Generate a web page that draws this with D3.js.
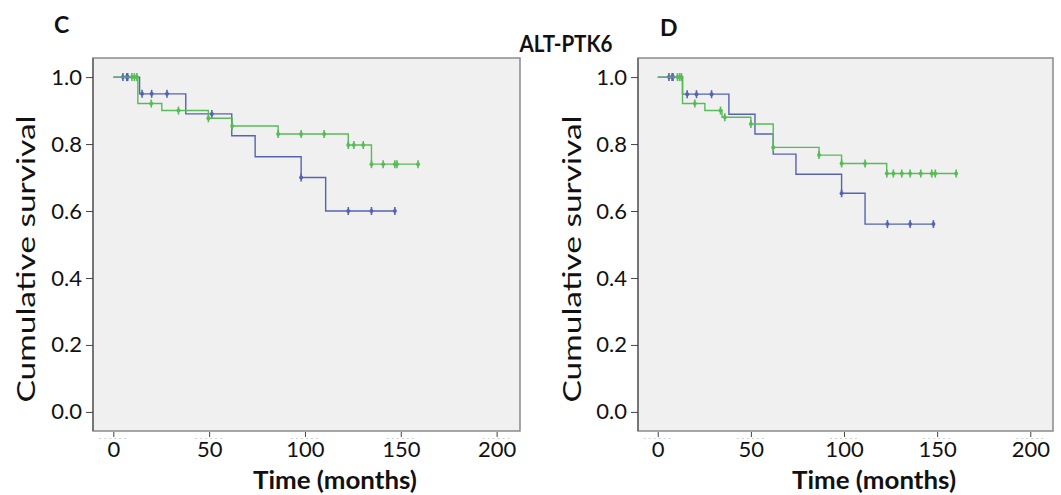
<!DOCTYPE html>
<html>
<head>
<meta charset="utf-8">
<script src="https://cdn.jsdelivr.net/npm/d3@7"></script>
<style>
  body { margin: 0; background: #fff; }
  svg text { font-family: Lato, "Open Sans", sans-serif; fill: #111; }
</style>
</head>
<body>
<svg id="chart" width="1061" height="495"></svg>
<script>
// x ticks / y ticks
const xTicks = [0, 50, 100, 150, 200]
const yTicks = [0, 0.2, 0.4, 0.6, 0.8, 1.0]

// panel C, blue group
const cBlueTimes = [13.7, 37.8, 61.8, 74, 98, 110.8]
const cBlueSurv = [0.95, 0.89, 0.825, 0.762, 0.70, 0.60]
const cBlueCensor = [5, 7, 7.5, 15, 20, 28, 51.4, 98, 122.6, 134.7, 146.9]
// panel C, green group
const cGreenTimes = [12.8, 25.3, 49.6, 62, 86, 122.6, 134.7]
const cGreenSurv = [0.921, 0.90, 0.877, 0.854, 0.83, 0.797, 0.74]
const cGreenCensor = [9.7, 11, 12.3, 19.8, 34, 49.6, 62, 86, 98, 110, 122.6, 125.5, 130.4, 134.7, 140.8, 146.9, 148, 159]

// panel D, blue group
const dBlueTimes = [13.3, 38.2, 52.2, 62, 74.2, 98.7, 111.3]
const dBlueSurv = [0.949, 0.889, 0.83, 0.77, 0.71, 0.653, 0.561]
const dBlueCensor = [6, 7.7, 8.2, 15.8, 20.8, 28.9, 98.7, 123.3, 135.5, 148]
// panel D, green group
const dGreenTimes = [13.3, 25.3, 34.5, 50, 62, 86.6, 98.7, 122.9]
const dGreenSurv = [0.921, 0.90, 0.88, 0.86, 0.79, 0.767, 0.742, 0.712]
const dGreenCensor = [10.6, 11.8, 12.7, 19.9, 33.7, 36, 50, 62, 86.6, 98.7, 111.3, 123, 126.5, 131, 135.5, 141.2, 147.1, 149, 160.2]

const blue = '#5563b0'
const green = '#58bb58'

let svg = d3.select('#chart')

function survAt(times, surv, t) {
    let s = 1
    times.forEach((tt, i) => { if (tt <= t) s = surv[i] })
    return s
}

function drawPanel(left, right, labelX, series) {

    let x = d3.scaleLinear().domain([-10.6, 212.2]).range([left, right])
    let y = d3.scaleLinear().domain([-0.057, 1.057]).range([431, 58])

    svg.append('rect')
        .attr('x', left).attr('y', 58)
        .attr('width', right - left).attr('height', 431 - 58)
        .style('fill', '#f0f0f0')
        .style('stroke', '#8a8a8a')
        .style('stroke-width', 1.5)

    // left edge a bit darker, like the axis line
    svg.append('line')
        .attr('x1', left).attr('x2', left).attr('y1', 58).attr('y2', 431)
        .style('stroke', '#666').style('stroke-width', 1.5)

    // y axis
    let yAxis = svg.append('g')
        .attr('transform', `translate(${left},0)`)
        .call(d3.axisLeft(y).tickValues(yTicks).tickFormat(d3.format('.1f')).tickSize(7).tickPadding(4))
    yAxis.select('.domain').remove()
    yAxis.selectAll('line').style('stroke', '#444')
    yAxis.selectAll('text').style('font-size', '22px').style('font-family', 'Lato').style('fill', '#111')

    // x axis, ticks hang below the frame
    let xAxis = svg.append('g')
        .attr('transform', `translate(0,432)`)
        .call(d3.axisBottom(x).tickValues(xTicks).tickSize(5).tickPadding(4))
    xAxis.select('.domain').remove()
    xAxis.selectAll('line').style('stroke', '#444')
    xAxis.selectAll('text').style('font-size', '22px').style('font-family', 'Lato').style('fill', '#111')

    // faint dotted bits under each tick
    svg.append('g').selectAll('line').data(xTicks).join('line')
        .attr('x1', d => x(d) - 14).attr('x2', d => x(d) + 14)
        .attr('y1', 438.5).attr('y2', 438.5)
        .style('stroke', '#d0d0d0')
        .style('stroke-width', 1)
        .style('stroke-dasharray', '2,3')

    svg.append('text')
        .attr('x', (x(0) + x(200)) / 2 + 30)
        .attr('y', 489)
        .attr('text-anchor', 'middle')
        .style('font-size', '24px')
        .style('font-weight', 700)
        .attr('textLength', 164)
        .attr('lengthAdjust', 'spacingAndGlyphs')
        .text('Time (months)')

    svg.append('text')
        .attr('transform', `translate(${labelX},259) rotate(-90)`)
        .attr('text-anchor', 'middle')
        .style('font-size', '25px')
        .attr('textLength', 287)
        .attr('lengthAdjust', 'spacingAndGlyphs')
        .text('Cumulative survival')

    let line = d3.line().x(d => x(d[0])).y(d => y(d[1])).curve(d3.curveStepAfter)

    series.forEach(s => {
        let last = d3.max(s.censor.concat(s.times))
        let pts = [[0, 1]]
        s.times.forEach((t, i) => pts.push([t, s.surv[i]]))
        pts.push([last, s.surv[s.surv.length - 1]])

        svg.append('path')
            .datum(pts)
            .attr('d', line)
            .style('fill', 'none')
            .style('stroke', s.color)
            .style('stroke-width', 1.4)

        let marks = svg.append('g').selectAll('g').data(s.censor).join('g')
            .attr('transform', d => `translate(${x(d)},${y(survAt(s.times, s.surv, d))})`)
        marks.append('line')
            .attr('y1', -4).attr('y2', 4)
            .style('stroke', s.color)
            .style('stroke-width', 1.6)
        marks.append('circle')
            .attr('r', 2)
            .style('fill', s.color)
    })
}

drawPanel(93, 520, 35, [
    { times: cBlueTimes, surv: cBlueSurv, censor: cBlueCensor, color: blue },
    { times: cGreenTimes, surv: cGreenSurv, censor: cGreenCensor, color: green }
])

drawPanel(638, 1053, 581, [
    { times: dBlueTimes, surv: dBlueSurv, censor: dBlueCensor, color: blue },
    { times: dGreenTimes, surv: dGreenSurv, censor: dGreenCensor, color: green }
])

svg.append('text').attr('x', 54).attr('y', 33)
    .style('font-size', '23px').style('font-weight', 700).text('C')
svg.append('text').attr('x', 660).attr('y', 36)
    .style('font-size', '23px').style('font-weight', 700).text('D')
svg.append('text').attr('x', 566).attr('y', 52).attr('text-anchor', 'middle')
    .style('font-size', '23px').style('font-weight', 700)
    .attr('textLength', 93).attr('lengthAdjust', 'spacingAndGlyphs')
    .text('ALT-PTK6')
</script>
</body>
</html>
